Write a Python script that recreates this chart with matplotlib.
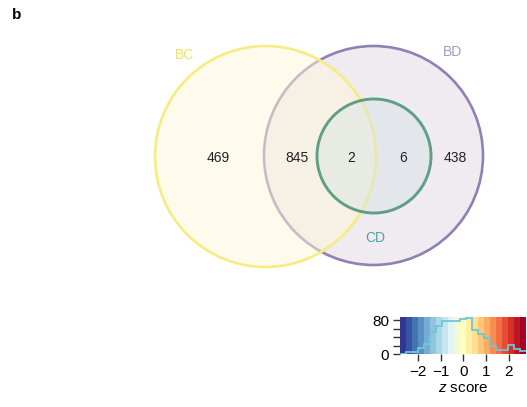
import numpy as np
import matplotlib
matplotlib.use("Agg")
import matplotlib.pyplot as plt
from matplotlib.patches import Circle

plt.rcParams['font.family'] = ['Liberation Sans', 'DejaVu Sans']
plt.rcParams['mathtext.fontset'] = 'custom'
plt.rcParams['mathtext.it'] = 'Liberation Sans:italic'
plt.rcParams['mathtext.rm'] = 'Liberation Sans'

# gene set overlap counts
set_names = ['BC', 'BD', 'CD']
region_counts = [469, 845, 2, 6, 438]   # BC only, BC&BD, BC&BD&CD, BD&CD, BD only

# z score histogram (counts per bin) over the colour key
z_min, z_max = -2.76, 2.76
z_counts = [0, 4, 4, 15, 23, 52, 67, 77, 77, 77, 82, 86, 57, 48, 37, 18, 10, 10, 21, 12, 6]
z_ticks = [-2, -1, 0, 1, 2]

fig = plt.figure(figsize=(5.27, 4.07), dpi=100)

# --- venn panel, drawn in pixel units ---
ax = fig.add_axes([0, 0, 1, 1])
ax.set_xlim(0, 527)
ax.set_ylim(407, 0)
ax.axis('off')

circles = {
    'BD': dict(xy=(373.5, 155.5), r=109.5, face='#f0eaf1', edge='#8f81b3'),
    'BC': dict(xy=(265.5, 156.5), r=110.5, face='#fff8da', edge='#f6ec82'),
    'CD': dict(xy=(374, 156), r=57, face='#d4e4e4', edge='#5f9f84'),
}
ax.add_patch(Circle(circles['BD']['xy'], circles['BD']['r'], facecolor=circles['BD']['face'],
                    edgecolor=circles['BD']['edge'], lw=1.9))
ax.add_patch(Circle(circles['BC']['xy'], circles['BC']['r'], facecolor=circles['BC']['face'],
                    edgecolor='none', alpha=0.5))
ax.add_patch(Circle(circles['BC']['xy'], circles['BC']['r'], facecolor='none',
                    edgecolor=circles['BC']['edge'], lw=1.9))
ax.add_patch(Circle(circles['CD']['xy'], circles['CD']['r'], facecolor=circles['CD']['face'],
                    edgecolor='none', alpha=0.45))
ax.add_patch(Circle(circles['CD']['xy'], circles['CD']['r'], facecolor='none',
                    edgecolor=circles['CD']['edge'], lw=2.1))

name_pos = [(185, 55), (452, 52), (375, 238)]
name_col = ['#f0e264', '#a69cc2', '#4ca3a2']
for name, (x, y), c in zip(set_names, name_pos, name_col):
    ax.text(x, y, name, color=c, fontsize=10, ha='center', va='center')

count_x = [218, 297, 351, 403, 455]
for x, n in zip(count_x, region_counts):
    ax.text(x, 158, str(n), color='#222222', fontsize=10, ha='center', va='center')

ax.text(12, 15, 'b', fontsize=11, fontweight='bold', ha='left', va='center')

# --- colour key with z score histogram ---
cax = fig.add_axes([400 / 527, 1 - 354 / 407, 127 / 527, 37.3 / 407])
edges = np.linspace(z_min, z_max, len(z_counts) + 1)
cols = plt.get_cmap('RdYlBu_r')(np.linspace(0, 1, len(z_counts)))
cax.bar(edges[:-1], [88] * len(z_counts), width=np.diff(edges), align='edge',
        color=cols, linewidth=0)
cax.stairs(z_counts, edges, color='#6ec6d9', lw=1.3, baseline=None)
cax.set_xlim(-2.78, 2.79)
cax.set_ylim(0, 88)
for s in cax.spines.values():
    s.set_visible(False)
cax.set_yticks([0, 80])
cax.set_yticks([20, 40, 60], minor=True)
cax.set_xticks(z_ticks)
cax.tick_params(axis='y', which='both', length=5, width=1, color='#333333', pad=3, labelsize=11)
cax.tick_params(axis='x', length=5, width=1, color='#333333', pad=3, labelsize=11)
cax.set_xlabel('$z$ score', fontsize=11, labelpad=1)

fig.savefig('out.png', dpi=100)
